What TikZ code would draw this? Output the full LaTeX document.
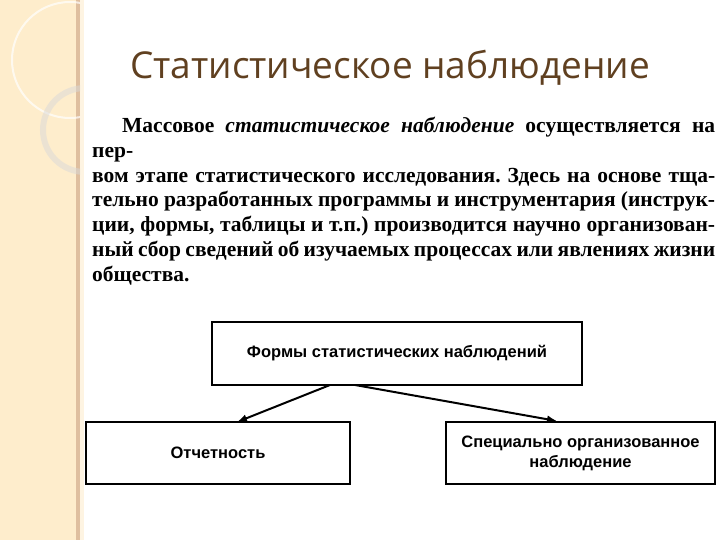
\documentclass[tikz,border=0pt]{standalone}
\usetikzlibrary{arrows.meta}
\usepackage{fontspec}
\setmainfont{Liberation Serif}
\newfontfamily\titlefont{Open Sans}
\newfontfamily\boxfont{Liberation Sans}
\begin{document}
\begin{tikzpicture}[x=1pt,y=-1pt,
  box/.style={draw,line width=2pt,font=\boxfont\bfseries\fontsize{16.5}{20}\selectfont,align=center,inner sep=0pt},
  arr/.style={-{Latex[length=10pt,width=8pt]},line width=2pt}]
\useasboundingbox (0,0) rectangle (720,540);
\fill[white] (0,0) rectangle (720,540);
% left decorative band
\fill[yellow!30!orange!18!white] (0,0) rectangle (76,540);
\fill[brown!50] (76,0) rectangle (80,540);
\fill[yellow!20!orange!10!white] (80,0) rectangle (84,540);
\begin{scope}
\clip (0,0) rectangle (80,540);
\draw[white,line width=2pt,opacity=0.7] (70,60) circle (58);
\draw[black!15,line width=6pt,opacity=0.5] (85,130) circle (42);
\end{scope}
% title
\node[font=\titlefont\fontsize{37}{42}\selectfont,text=brown!50!black] (title) at (390,68) {Статистическое наблюдение};
% body
\node[anchor=north west,inner sep=0pt,text width=623pt,align=justify,font=\fontsize{21.5}{24.8}\selectfont\bfseries\frenchspacing] (body) at (92,117)
{\hspace*{30pt}Массовое \textit{статистическое наблюдение} осуществляется на пер-\linebreak
вом этапе статистического исследования. Здесь на основе тща-\linebreak
тельно разработанных программы и инструментария (инструк-\linebreak
ции, формы, таблицы и т.п.) производится научно организован-\linebreak
ный сбор сведений об изучаемых процессах или явлениях жизни\linebreak
общества.};
% boxes
\node[box,minimum width=370pt,minimum height=63pt] (top) at (397,353.5) {Формы статистических наблюдений};
\node[box,minimum width=264pt,minimum height=62pt] (left) at (218,453) {Отчетность};
\node[box,minimum width=269pt,minimum height=62pt] (right) at (580.5,453) {Специально организованное\\наблюдение};
\coordinate (s1) at (330,385);
\coordinate (s2) at (355,385);
\coordinate (e1) at (237,422);
\coordinate (e2) at (557,421);
\draw[arr] (s1) -- (e1);
\draw[arr] (s2) -- (e2);
\end{tikzpicture}
\end{document}
